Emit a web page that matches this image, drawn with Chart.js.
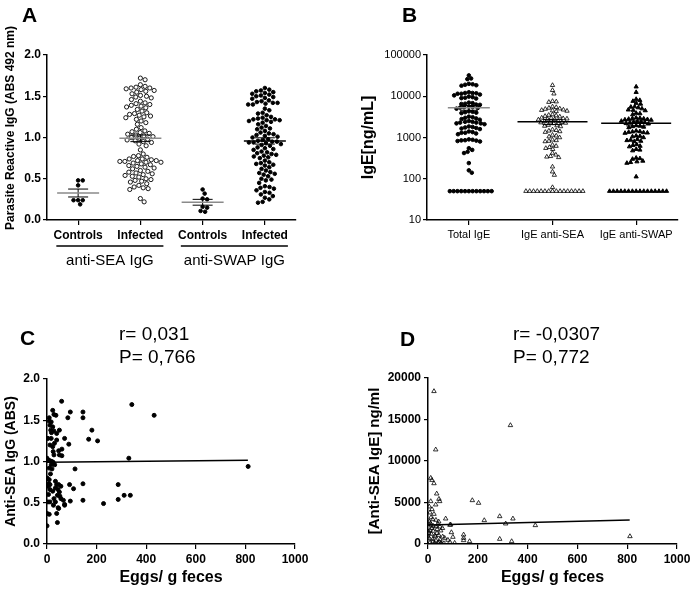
<!DOCTYPE html>
<html>
<head>
<meta charset="utf-8">
<script src="https://cdn.jsdelivr.net/npm/chart.js@4.4.1/dist/chart.umd.min.js"></script>
<style>
  html, body { margin: 0; padding: 0; background: #fff; }
  #wrap { position: relative; width: 694px; height: 591px; }
  canvas { position: absolute; left: 0; top: 0; }
</style>
</head>
<body>
<div id="wrap">
  <canvas id="chartA" width="694" height="591"></canvas>
  <canvas id="chartB" width="694" height="591"></canvas>
  <canvas id="chartC" width="694" height="591"></canvas>
  <canvas id="chartD" width="694" height="591"></canvas>
</div>
<script>
// ---- panel A: parasite reactive IgG (ABS 492 nm)
const CATS_A = ['Controls', 'Infected', 'Controls', 'Infected'];
const GROUPS_A = ['anti-SEA IgG', 'anti-SWAP IgG'];
const TICKS_A = [0, 0.5, 1, 1.5, 2];
const SEA_CTRL = [0.48, 0.48, 0.42, 0.24, 0.24, 0.24, 0.19];
const SEA_INF = [1.72, 1.70, 1.64, 1.62, 1.61, 1.60, 1.60, 1.59, 1.58, 1.57, 1.56, 1.55, 1.53, 1.51,
  1.50, 1.49, 1.48, 1.46, 1.44, 1.42, 1.41, 1.40, 1.39, 1.38, 1.37, 1.36, 1.34, 1.32, 1.30, 1.29,
  1.28, 1.27, 1.26, 1.25, 1.24, 1.22, 1.20, 1.18, 1.16, 1.12, 1.10, 1.08, 1.07, 1.06, 1.05, 1.04,
  1.03, 1.02, 1.01, 1.00, 0.99, 0.98, 0.97, 0.96, 0.95, 0.94, 0.92, 0.90, 0.85, 0.80, 0.78, 0.77, 0.76,
  0.74, 0.74, 0.73, 0.72, 0.72, 0.71, 0.71, 0.70, 0.70, 0.69, 0.68, 0.67, 0.66, 0.65, 0.64, 0.63, 0.62,
  0.60, 0.59, 0.58, 0.57, 0.56, 0.55, 0.54, 0.53, 0.52, 0.50, 0.49, 0.48, 0.47, 0.46, 0.44,
  0.42, 0.40, 0.39, 0.38, 0.37, 0.26, 0.22];
const SWAP_CTRL = [0.37, 0.32, 0.26, 0.25, 0.16, 0.15, 0.11, 0.10];
const SWAP_INF = [1.60, 1.58, 1.57, 1.56, 1.55, 1.54, 1.53, 1.52, 1.51, 1.50, 1.49, 1.48, 1.47, 1.45, 1.44,
  1.43, 1.42, 1.42, 1.41, 1.40, 1.40, 1.35, 1.33, 1.30, 1.29, 1.27, 1.25, 1.24,
  1.23, 1.22, 1.22, 1.21, 1.21, 1.20, 1.19, 1.18, 1.16, 1.14, 1.12, 1.11, 1.10,
  1.08, 1.06, 1.05, 1.04, 1.03, 1.02, 1.01, 1.00, 0.98, 0.97,
  0.96, 0.95, 0.95, 0.94, 0.94, 0.93, 0.92, 0.91, 0.90, 0.88, 0.87, 0.86, 0.85, 0.83,
  0.82, 0.81, 0.80, 0.79, 0.78, 0.77, 0.76, 0.75, 0.72, 0.70, 0.69, 0.68, 0.67, 0.66, 0.64,
  0.62, 0.60, 0.58, 0.57, 0.56, 0.55, 0.53, 0.50, 0.49, 0.48, 0.45,
  0.41, 0.40, 0.39, 0.38, 0.36, 0.34, 0.33, 0.31, 0.29, 0.27, 0.25, 0.22, 0.21];

// ---- panel B: IgE (ng/mL), log scale
const CATS_B = ['Total IgE', 'IgE anti-SEA', 'IgE anti-SWAP'];
const TICKS_B = [10, 100, 1000, 10000, 100000];
const IGE_TOTAL = [32000, 27000, 26000, 20000, 19500, 19000, 18500, 18000,
  12500, 12000, 12000, 11800, 11500, 11500, 11000, 10500, 9800, 9500, 9200, 9000, 8800,
  7000, 6800, 6600, 6500, 6300, 6200, 5600, 5500, 5400, 5300, 5200, 5000,
  4300, 4200, 4100, 4000, 3900, 3200, 3100, 3000, 2900, 2800, 2700,
  2500, 2400, 2400, 2300, 2300, 2200, 2200, 2100, 1850, 1800, 1750, 1700, 1650, 1600,
  1400, 1350, 1300, 1300, 1250, 1200, 900, 880, 860, 850, 840, 820, 800,
  550, 500, 450, 420, 240, 160, 140,
  50, 50, 50, 50, 50, 50, 50, 50, 50, 50, 50, 50];
const IGE_SEA = [18500, 14000, 11500, 7600, 7400, 7200, 5600, 5400, 5200, 5000, 4900,
  4700, 4600, 4500, 4400, 4300, 3600, 3500, 3400, 3300, 3200,
  3000, 2950, 2900, 2850, 2800, 2750, 2700, 2500, 2450, 2400, 2350, 2300, 2250, 2200,
  2000, 1950, 1900, 1850, 1550, 1500, 1450, 1400, 1350, 1150, 1100, 1050, 1000,
  880, 850, 820, 800, 660, 620, 580, 550, 520, 420, 380, 350, 340, 330,
  195, 148, 123, 62,
  50, 50, 50, 50, 50, 50, 50, 50, 50, 50, 50, 50, 50, 50, 50, 50];
const IGE_SWAP = [17000, 12500, 8500, 8000, 7600, 6800, 6500, 5600, 5500, 5300, 5000,
  4700, 4600, 4500, 3900, 3800, 3600, 3000, 2950, 2900, 2850, 2800, 2750, 2700, 2650,
  2500, 2450, 2400, 2350, 2300, 2250, 2200, 2150, 1950, 1900, 1850, 1800, 1750,
  1450, 1400, 1380, 1350, 1320, 1300, 1280, 1100, 1080, 1050, 1000,
  900, 870, 850, 820, 800, 680, 650, 620, 600, 520, 500, 480,
  320, 310, 300, 270, 260, 250, 240, 112,
  50, 50, 50, 50, 50, 50, 50, 50, 50, 50, 50, 50, 50, 50, 50, 50];

// ---- panel C: anti-SEA IgG vs eggs
const TICKS_X_CD = [0, 200, 400, 600, 800, 1000];
const TICKS_C = [0, 0.5, 1, 1.5, 2];
const EGGS_C = [59, 342, 432, 94, 145, 145, 84, 181, 168, 204, 88, 330, 113, 811, 287, 145, 91, 107, 311, 336,
  287, 145, 228, 94, 71, 0,
  23, 28, 36, 9, 9, 17, 12, 23, 15, 28, 39, 50, 4, 17, 39, 71, 12, 23, 25, 47,
  28, 50, 60, 0, 4, 12, 20, 25, 17, 31, 9, 20, 1, 9, 7, 12, 34, 39, 47, 56,
  34, 12, 23, 44, 50, 42, 52, 28, 66, 12, 34, 4, 26, 45, 47, 71, 1, 9, 39, 42,
  3, 6, 18, 30, 56, 14, 60];
const ABS_C = [1.73, 1.69, 1.56, 1.60, 1.60, 1.53, 1.53, 1.38, 1.27, 1.25, 1.21, 1.04, 0.91, 0.94, 0.72, 0.73, 0.72, 0.67, 0.59, 0.59,
  0.54, 0.53, 0.49, 0.52, 0.48, 0.22,
  1.62, 1.57, 1.56, 1.53, 1.49, 1.48, 1.44, 1.42, 1.38, 1.37, 1.34, 1.38, 1.28, 1.28, 1.26, 1.28, 1.20, 1.18, 1.12, 1.13,
  1.08, 1.08, 1.07, 1.04, 1.02, 1.01, 1.00, 0.99, 0.96, 0.96, 0.92, 0.91, 0.80, 0.78, 0.73, 0.72, 0.76, 0.72, 0.72, 0.70,
  0.68, 0.66, 0.64, 0.66, 0.63, 0.59, 0.58, 0.55, 0.53, 0.51, 0.51, 0.51, 0.47, 0.44, 0.43, 0.47, 0.37, 0.36, 0.37, 0.26,
  0.70, 0.60, 1.35, 1.22, 0.55, 0.85, 1.15];
const FIT_X = [0, 810];
const FIT_C = [0.99, 1.015];
const STATS_C = ['r= 0,031', 'P= 0,766'];

// ---- panel D: anti-SEA IgE vs eggs
const TICKS_D = [0, 5000, 10000, 15000, 20000];
const EGGS_D = [24, 331, 31, 11, 16, 24, 35, 178, 203, 44, 47, 31, 11, 288, 341, 71, 226, 312, 431, 288,
  336, 811, 143, 143, 143, 167, 94, 100, 107, 91,
  5, 16, 8, 24, 19, 32, 43, 5, 0, 13, 21, 32, 48, 8, 21, 37, 51, 88, 3, 13,
  27, 43, 59, 5, 19, 32, 48, 67, 80, 8, 27, 40, 51, 64, 88, 0, 2, 10, 15, 36,
  20, 45, 55, 30, 12, 40, 58];
const IGE_D = [18400, 14300, 11370, 7950, 7700, 7300, 6060, 5260, 4940, 5420, 5140, 4740, 5140, 3330, 3050, 3050, 2850, 2450, 2250, 600,
  320, 920, 1120, 720, 440, 320, 1400, 840, 120, 2330,
  4500, 4180, 3780, 3610, 2970, 2890, 2690, 2690, 2410, 2290, 2170, 2090, 2090, 1690, 1570, 1770, 1610, 2290, 1290, 1200,
  1000, 1080, 880, 680, 560, 400, 560, 720, 480, 160, 80, 160, 80, 80, 240, 880, 1500, 2500, 1900, 1300,
  300, 250, 50, 900, 3200, 2400, 1900];
const FIT_D = [2290, 2900];
const STATS_D = ['r= -0,0307', 'P= 0,772'];

const FONT = "Arial, 'Liberation Sans', sans-serif";
Chart.defaults.font.family = FONT;
Chart.defaults.color = '#000';

// fix the scale box so the plot areas land where the figure has them
function fixBox(size, vertical) {
  return function (scale) {
    if (vertical) scale.width = size; else scale.height = size;
    scale.paddingLeft = scale.paddingRight = scale.paddingTop = scale.paddingBottom = 0;
  };
}
function setTicks(list) {
  return function (scale) { scale.ticks = list.map(v => ({ value: v })); };
}
const border = { display: true, color: '#000', width: 1.5 };
const grid = { display: true, drawOnChartArea: false, drawTicks: true, tickLength: 4, color: '#000', lineWidth: 1.2 };

const textPlugin = {
  id: 'texts',
  afterDraw(chart, args, opts) {
    const ctx = chart.ctx;
    (opts.items || []).forEach(t => {
      ctx.save();
      ctx.font = t.font;
      ctx.fillStyle = '#000';
      ctx.textAlign = t.align || 'left';
      ctx.textBaseline = t.baseline || 'alphabetic';
      ctx.translate(t.x, t.y);
      if (t.rot) ctx.rotate(t.rot);
      ctx.fillText(t.text, 0, 0);
      ctx.restore();
    });
  }
};

// mean line + SEM whiskers for each group
const meanPlugin = {
  id: 'meanSem',
  afterDatasetsDraw(chart) {
    const ctx = chart.ctx, xs = chart.scales.x, ys = chart.scales.y;
    chart.data.datasets.forEach(ds => {
      if (!ds.values) return;
      const n = ds.values.length;
      const m = ds.values.reduce((a, b) => a + b, 0) / n;
      const sd = Math.sqrt(ds.values.reduce((a, b) => a + (b - m) ** 2, 0) / (n - 1));
      const sem = sd / Math.sqrt(n);
      const cx = xs.getPixelForValue(ds.center);
      const yM = ys.getPixelForValue(m), yHi = ys.getPixelForValue(m + sem), yLo = ys.getPixelForValue(m - sem);
      ctx.save();
      ctx.strokeStyle = '#000';
      ctx.lineWidth = 1;
      ctx.beginPath();
      ctx.moveTo(cx - ds.semHalf, yHi); ctx.lineTo(cx + ds.semHalf, yHi);
      ctx.moveTo(cx - ds.semHalf, yLo); ctx.lineTo(cx + ds.semHalf, yLo);
      ctx.moveTo(cx, yHi); ctx.lineTo(cx, yLo);
      ctx.stroke();
      ctx.strokeStyle = ds.meanColor;
      ctx.lineWidth = 1.5;
      ctx.beginPath();
      ctx.moveTo(cx - ds.meanHalf, yM); ctx.lineTo(cx + ds.meanHalf, yM);
      ctx.stroke();
      ctx.restore();
    });
  }
};

// simple beeswarm: spread points sideways so they do not overlap
function swarm(chart) {
  const xs = chart.scales.x, ys = chart.scales.y;
  const unit = xs.getPixelForValue(1) - xs.getPixelForValue(0);
  chart.data.datasets.forEach(ds => {
    if (!ds.values) return;
    const d = ds.gap;
    const pts = ds.values.map(v => ({ v, py: ys.getPixelForValue(v), px: 0 }));
    const placed = [];
    pts.slice().sort((a, b) => a.py - b.py).forEach(p => {
      const near = placed.filter(q => Math.abs(q.py - p.py) < d);
      const cands = [0];
      near.forEach(q => {
        const dx = Math.sqrt(d * d - (q.py - p.py) ** 2);
        cands.push(q.px + dx, q.px - dx);
      });
      cands.sort((a, b) => Math.abs(a) - Math.abs(b) || b - a);
      p.px = cands.find(c => near.every(q => (c - q.px) ** 2 + (q.py - p.py) ** 2 >= d * d - 0.01));
      placed.push(p);
    });
    ds.data = pts.map(p => ({ x: ds.center + p.px / unit, y: p.v }));
  });
  chart.update('none');
}

function group(values, center, extra) {
  return Object.assign({
    values, center,
    data: values.map(v => ({ x: center, y: v })),
    borderColor: '#000', backgroundColor: '#000', borderWidth: 1,
    pointRadius: 1.8, pointHoverRadius: 1.8
  }, extra);
}

const base = { responsive: false, animation: false, events: [], devicePixelRatio: 1 };

// ---------------- A
const groupsA = {
  id: 'groupsA',
  afterDraw(chart) {
    const ctx = chart.ctx, xs = chart.scales.x;
    [[0, 1], [2, 3]].forEach((pair, i) => {
      const x0 = xs.getPixelForValue(pair[0] - 0.35), x1 = xs.getPixelForValue(pair[1] + 0.37);
      ctx.save();
      ctx.strokeStyle = '#000';
      ctx.lineWidth = 1.5;
      ctx.beginPath(); ctx.moveTo(x0, 246); ctx.lineTo(x1, 246); ctx.stroke();
      ctx.font = '15px ' + FONT;
      ctx.fillStyle = '#000';
      ctx.textAlign = 'center';
      ctx.textBaseline = 'middle';
      ctx.fillText(GROUPS_A[i], (x0 + x1) / 2, 261);
      ctx.restore();
    });
  }
};
const chartA = new Chart(document.getElementById('chartA'), {
  type: 'scatter',
  data: {
    datasets: [
      group(SEA_CTRL, 0, { gap: 4.6, meanColor: '#8a8a8a', meanHalf: 21, semHalf: 10 }),
      group(SEA_INF, 1, { gap: 5.0, pointRadius: 2.1, borderWidth: 0.9, backgroundColor: 'rgba(0,0,0,0)', meanColor: '#8a8a8a', meanHalf: 21, semHalf: 10 }),
      group(SWAP_CTRL, 2, { gap: 4.6, meanColor: '#8a8a8a', meanHalf: 21, semHalf: 10 }),
      group(SWAP_INF, 3, { gap: 4.7, meanColor: '#000', meanHalf: 21, semHalf: 10 })
    ]
  },
  options: Object.assign({}, base, {
    layout: { padding: { left: 0, top: 55, right: 398, bottom: 331 } },
    plugins: {
      legend: { display: false }, tooltip: { enabled: false },
      texts: { items: [
        { text: 'A', x: 22, y: 22, font: 'bold 21px ' + FONT },
        { text: 'Parasite Reactive IgG (ABS 492 nm)', x: 11, y: 128, font: 'bold 12px ' + FONT, align: 'center', baseline: 'middle', rot: -Math.PI / 2 }
      ] }
    },
    scales: {
      x: {
        type: 'linear', min: -0.5, max: 3.5, border, grid: Object.assign({}, grid, { tickLength: 5 }),
        afterBuildTicks: setTicks([0, 1, 2, 3]), afterFit: fixBox(40, false),
        ticks: { callback: (v, i) => CATS_A[i], font: { weight: 'bold', size: 12 }, padding: 3, autoSkip: false, maxRotation: 0 }
      },
      y: {
        min: 0, max: 2, border, grid,
        afterBuildTicks: setTicks(TICKS_A), afterFit: fixBox(47, true),
        ticks: { callback: v => v.toFixed(1), font: { weight: 'bold', size: 12 }, padding: 2 }
      }
    }
  }),
  plugins: [meanPlugin, textPlugin, groupsA]
});
swarm(chartA);

// ---------------- B
const chartB = new Chart(document.getElementById('chartB'), {
  type: 'scatter',
  data: {
    datasets: [
      group(IGE_TOTAL, 0, { gap: 3.8, meanColor: '#8a8a8a', meanHalf: 21, semHalf: 9 }),
      group(IGE_SEA, 1, { gap: 3.8, pointStyle: 'triangle', pointRadius: 2.5, borderWidth: 0.8, backgroundColor: 'rgba(0,0,0,0)', meanColor: '#000', meanHalf: 35, semHalf: 10 }),
      group(IGE_SWAP, 2, { gap: 3.8, pointStyle: 'triangle', pointRadius: 2.4, meanColor: '#000', meanHalf: 35, semHalf: 10 })
    ]
  },
  options: Object.assign({}, base, {
    layout: { padding: { left: 355, top: 55, right: 16, bottom: 331 } },
    plugins: {
      legend: { display: false }, tooltip: { enabled: false },
      texts: { items: [{ text: 'B', x: 402, y: 22, font: 'bold 21px ' + FONT }] }
    },
    scales: {
      x: {
        type: 'linear', min: -0.5, max: 2.5, border, grid: Object.assign({}, grid, { tickLength: 5 }),
        afterBuildTicks: setTicks([0, 1, 2]), afterFit: fixBox(40, false),
        ticks: { callback: (v, i) => CATS_B[i], font: { size: 11 }, padding: 3, autoSkip: false, maxRotation: 0 }
      },
      y: {
        type: 'logarithmic', min: 10, max: 100000, border, grid,
        afterBuildTicks: setTicks(TICKS_B), afterFit: fixBox(72, true),
        title: { display: true, text: 'IgE[ng/mL]', font: { weight: 'bold', size: 16 }, padding: { top: 4 } },
        ticks: { callback: v => String(v), font: { size: 11 }, padding: 2, autoSkip: false }
      }
    }
  }),
  plugins: [meanPlugin, textPlugin]
});
swarm(chartB);

// ---------------- C
function xEggs() {
  return {
    type: 'linear', min: 0, max: 1000, border, grid: Object.assign({}, grid, { tickLength: 5 }),
    afterBuildTicks: setTicks(TICKS_X_CD), afterFit: fixBox(47, false),
    title: { display: true, text: 'Eggs/ g feces', font: { weight: 'bold', size: 16 }, padding: { bottom: 4 } },
    ticks: { callback: v => String(v), font: { weight: 'bold', size: 12 }, padding: 3, autoSkip: false, maxRotation: 0 }
  };
}
new Chart(document.getElementById('chartC'), {
  type: 'scatter',
  data: {
    datasets: [
      {
        data: EGGS_C.map((e, i) => ({ x: e, y: ABS_C[i] })),
        backgroundColor: '#000', borderColor: '#000', pointRadius: 2, pointHoverRadius: 2
      },
      {
        type: 'line', data: FIT_X.map((e, i) => ({ x: e, y: FIT_C[i] })),
        borderColor: '#000', borderWidth: 1.5, pointRadius: 0
      }
    ]
  },
  options: Object.assign({}, base, {
    layout: { padding: { left: 0, top: 379, right: 399, bottom: 0 } },
    plugins: {
      legend: { display: false }, tooltip: { enabled: false },
      texts: { items: [
        { text: 'C', x: 20, y: 345, font: 'bold 21px ' + FONT },
        { text: STATS_C[0], x: 119, y: 340, font: '19px ' + FONT },
        { text: STATS_C[1], x: 119, y: 363, font: '19px ' + FONT }
      ] }
    },
    scales: {
      x: xEggs(),
      y: {
        min: 0, max: 2, border, grid,
        afterBuildTicks: setTicks(TICKS_C), afterFit: fixBox(47, true),
        title: { display: true, text: 'Anti-SEA IgG (ABS)', font: { weight: 'bold', size: 14 }, padding: { top: 3 } },
        ticks: { callback: v => v.toFixed(1), font: { weight: 'bold', size: 12 }, padding: 3 }
      }
    }
  }),
  plugins: [textPlugin]
});

// ---------------- D
new Chart(document.getElementById('chartD'), {
  type: 'scatter',
  data: {
    datasets: [
      {
        data: EGGS_D.map((e, i) => ({ x: e, y: IGE_D[i] })),
        pointStyle: 'triangle', backgroundColor: 'rgba(0,0,0,0)', borderColor: '#000', borderWidth: 0.8,
        pointRadius: 2.6, pointHoverRadius: 2.6
      },
      {
        type: 'line', data: FIT_X.map((e, i) => ({ x: e, y: FIT_D[i] })),
        borderColor: '#000', borderWidth: 1.5, pointRadius: 0
      }
    ]
  },
  options: Object.assign({}, base, {
    layout: { padding: { left: 362, top: 378, right: 17, bottom: 0 } },
    plugins: {
      legend: { display: false }, tooltip: { enabled: false },
      texts: { items: [
        { text: 'D', x: 400, y: 346, font: 'bold 21px ' + FONT },
        { text: STATS_D[0], x: 513, y: 340, font: '19px ' + FONT },
        { text: STATS_D[1], x: 513, y: 363, font: '19px ' + FONT }
      ] }
    },
    scales: {
      x: xEggs(),
      y: {
        min: 0, max: 20000, border, grid,
        afterBuildTicks: setTicks(TICKS_D), afterFit: fixBox(66, true),
        title: { display: true, text: '[Anti-SEA IgE] ng/ml', font: { weight: 'bold', size: 15 }, padding: { top: 4 } },
        ticks: { callback: v => String(v), font: { weight: 'bold', size: 12 }, padding: 3 }
      }
    }
  }),
  plugins: [textPlugin]
});
</script>
</body>
</html>
